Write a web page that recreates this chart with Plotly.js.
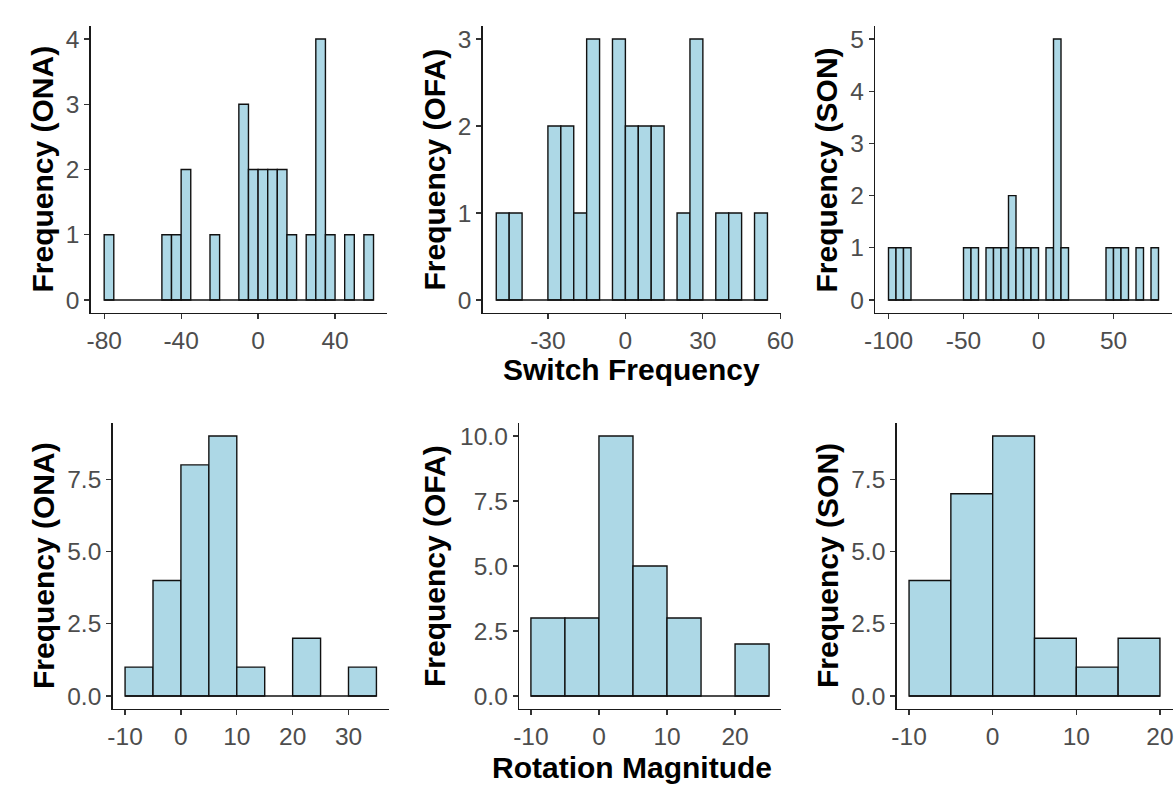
<!DOCTYPE html>
<html>
<head>
<meta charset="utf-8">
<script src="https://cdn.plot.ly/plotly-3.0.1.min.js"></script>
<style>html,body{margin:0;padding:0;background:#fff;}#chart{width:1176px;height:794px;}</style>
</head>
<body>
<div id="chart"></div>
<script>
// ---- Data (bin left edges of non-empty bins, and their counts; bin width 5) ----
const binWidth = 5;

const switchONA_left   = [-80, -50, -45, -40, -25, -10, -5, 0, 5, 10, 15, 25, 30, 35, 45, 55];
const switchONA_counts = [1, 1, 1, 2, 1, 3, 2, 2, 2, 2, 1, 1, 4, 1, 1, 1];

const switchOFA_left   = [-50, -45, -30, -25, -20, -15, -5, 0, 5, 10, 20, 25, 35, 40, 50];
const switchOFA_counts = [1, 1, 2, 2, 1, 3, 3, 2, 2, 2, 1, 3, 1, 1, 1];

const switchSON_left   = [-100, -95, -90, -50, -45, -35, -30, -25, -20, -15, -10, -5, 5, 10, 15, 45, 50, 55, 65, 75];
const switchSON_counts = [1, 1, 1, 1, 1, 1, 1, 1, 2, 1, 1, 1, 1, 5, 1, 1, 1, 1, 1, 1];

const rotONA_left   = [-10, -5, 0, 5, 10, 20, 30];
const rotONA_counts = [1, 4, 8, 9, 1, 2, 1];

const rotOFA_left   = [-10, -5, 0, 5, 10, 20];
const rotOFA_counts = [3, 3, 10, 5, 3, 2];

const rotSON_left   = [-10, -5, 0, 5, 10, 15];
const rotSON_counts = [4, 7, 9, 2, 1, 2];

// tick labels
const switchONA_xticks = [-80, -40, 0, 40];
const switchOFA_xticks = [-30, 0, 30, 60];
const switchSON_xticks = [-100, -50, 0, 50];
const switchONA_yticks = [0, 1, 2, 3, 4];
const switchOFA_yticks = [0, 1, 2, 3];
const switchSON_yticks = [0, 1, 2, 3, 4, 5];
const rotONA_xticks = [-10, 0, 10, 20, 30];
const rotOFA_xticks = [-10, 0, 10, 20];
const rotSON_xticks = [-10, 0, 10, 20];
const rotONA_yticks = [0, 2.5, 5, 7.5];
const rotOFA_yticks = [0, 2.5, 5, 7.5, 10];
const rotSON_yticks = [0, 2.5, 5, 7.5];
const rotYtickText = v => v.toFixed(1);

const yTitles = ['Frequency (ONA)', 'Frequency (OFA)', 'Frequency (SON)'];
const xTitleTop = 'Switch Frequency';
const xTitleBottom = 'Rotation Magnitude';

// ---- Layout geometry (pixels) ----
const W = 1176, H = 794;
const panels = [
  {left: switchONA_left, counts: switchONA_counts, xt: switchONA_xticks, yt: switchONA_yticks, ytt: null, px: [90.7, 387], py: [26, 313], ttl: 0, tx: 42},
  {left: switchOFA_left, counts: switchOFA_counts, xt: switchOFA_xticks, yt: switchOFA_yticks, ytt: null, px: [482.7, 781], py: [26, 313], ttl: 1, tx: 434},
  {left: switchSON_left, counts: switchSON_counts, xt: switchSON_xticks, yt: switchSON_yticks, ytt: null, px: [875, 1172], py: [26, 313], ttl: 2, tx: 826},
  {left: rotONA_left, counts: rotONA_counts, xt: rotONA_xticks, yt: rotONA_yticks, ytt: rotYtickText, px: [112.5, 389], py: [423, 709], ttl: 0, tx: 43},
  {left: rotOFA_left, counts: rotOFA_counts, xt: rotOFA_xticks, yt: rotOFA_yticks, ytt: rotYtickText, px: [519, 781], py: [423, 709], ttl: 1, tx: 434},
  {left: rotSON_left, counts: rotSON_counts, xt: rotSON_xticks, yt: rotSON_yticks, ytt: rotYtickText, px: [896.5, 1172.5], py: [423, 709], ttl: 2, tx: 827}
];

const FONT = 'Liberation Sans, Arial, Helvetica, sans-serif';
const tickFont = {family: FONT, size: 24.5, color: '#4D4D4D'};
const titleFont = {family: FONT, size: 30, color: '#000000', weight: 'bold'};

const data = [];
const layout = {
  width: W, height: H,
  margin: {l: 0, r: 0, t: 0, b: 0},
  paper_bgcolor: '#ffffff', plot_bgcolor: '#ffffff',
  showlegend: false, bargap: 0,
  annotations: []
};

panels.forEach((p, i) => {
  const n = i + 1;
  const xa = n === 1 ? 'x' : 'x' + n;
  const ya = n === 1 ? 'y' : 'y' + n;
  const lo = Math.min(...p.left);
  const hi = Math.max(...p.left) + binWidth;
  const maxC = Math.max(...p.counts);
  const ex = 0.05 * (hi - lo);

  // baseline for empty bins (ggplot draws zero-height bins as a line)
  data.push({
    type: 'scatter', mode: 'lines', x: [lo, hi], y: [0, 0],
    xaxis: xa, yaxis: ya, line: {color: '#111111', width: 1.5}, hoverinfo: 'skip'
  });
  data.push({
    type: 'bar', x: p.left, y: p.counts, width: binWidth, offset: 0,
    xaxis: xa, yaxis: ya,
    marker: {color: '#ADD8E6', line: {color: '#111111', width: 1.4}},
    hoverinfo: 'x+y'
  });

  const axCommon = {
    showgrid: false, zeroline: false, showline: true, linecolor: '#1a1a1a', linewidth: 1.3,
    ticks: 'outside', ticklen: 5, tickwidth: 1.2, tickcolor: '#333333',
    tickfont: tickFont, fixedrange: true
  };
  layout['xaxis' + (n === 1 ? '' : n)] = Object.assign({}, axCommon, {
    domain: [p.px[0] / W, p.px[1] / W], anchor: ya,
    range: [lo - ex, hi + ex], tickmode: 'array', tickvals: p.xt,
    ticktext: p.xt.map(String)
  });
  layout['yaxis' + (n === 1 ? '' : n)] = Object.assign({}, axCommon, {
    domain: [1 - p.py[1] / H, 1 - p.py[0] / H], anchor: xa,
    range: [-0.05 * maxC, 1.05 * maxC], tickmode: 'array', tickvals: p.yt,
    ticktext: p.ytt ? p.yt.map(p.ytt) : p.yt.map(String)
  });
  layout.annotations.push({
    xref: 'paper', yref: 'paper', x: p.tx / W, y: 1 - ((p.py[0] + p.py[1]) / 2) / H,
    xanchor: 'center', yanchor: 'middle', textangle: -90, showarrow: false,
    text: yTitles[p.ttl], font: titleFont
  });
});

layout.annotations.push({
  xref: 'paper', yref: 'paper', x: 631.5 / W, y: 1 - 369 / H, xanchor: 'center', yanchor: 'middle',
  showarrow: false, text: xTitleTop, font: titleFont
});
layout.annotations.push({
  xref: 'paper', yref: 'paper', x: 631.5 / W, y: 1 - 767 / H, xanchor: 'center', yanchor: 'middle',
  showarrow: false, text: xTitleBottom, font: titleFont
});

Plotly.newPlot('chart', data, layout, {staticPlot: true, displayModeBar: false});
</script>
</body>
</html>
